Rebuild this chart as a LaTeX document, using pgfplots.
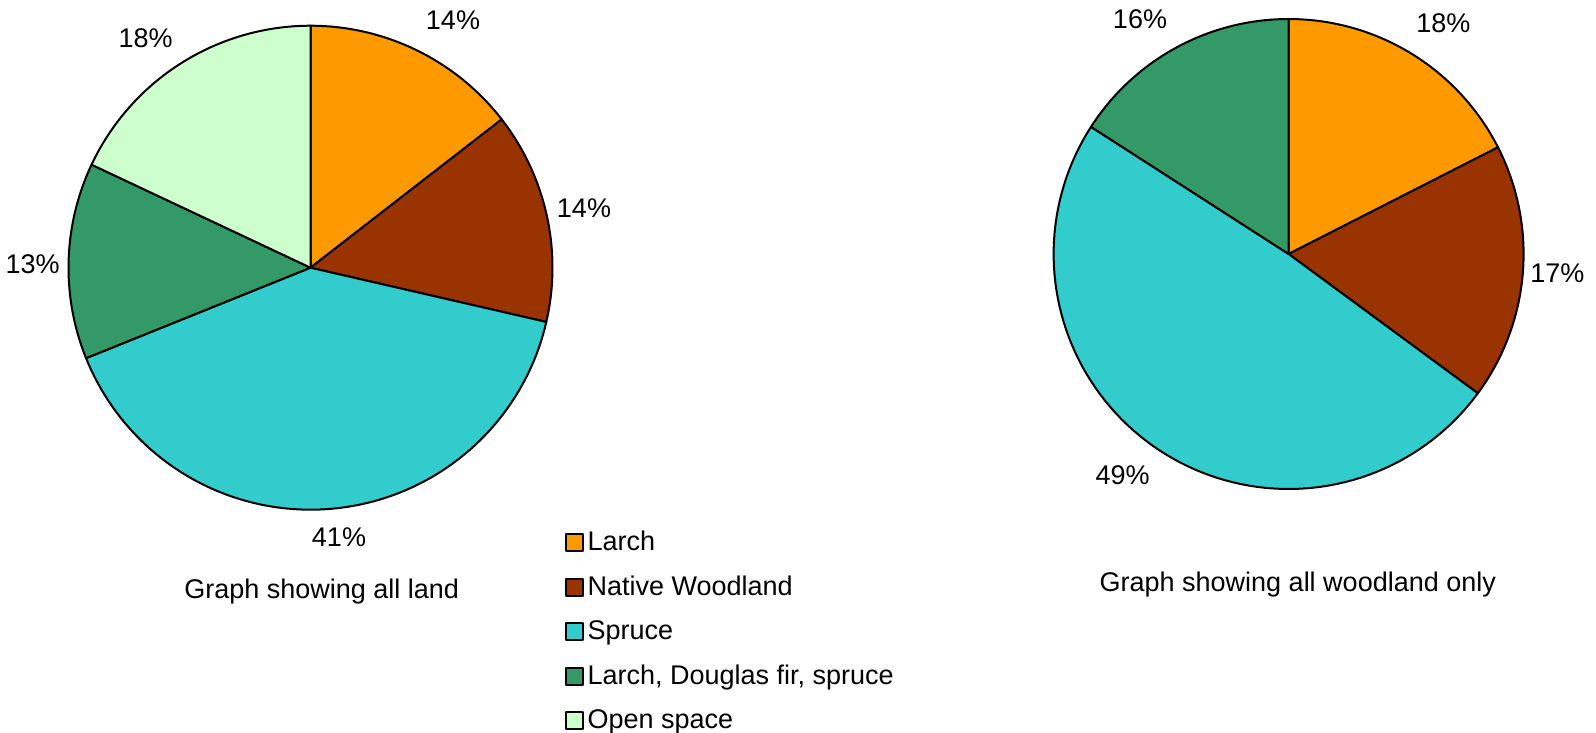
\documentclass[border=0pt]{standalone}
\usepackage{pgfplots}
\pgfplotsset{compat=1.18}
\usepackage{fontspec}
\setmainfont{Liberation Sans}
\definecolor{clarch}{HTML}{FF9900}
\definecolor{cnative}{HTML}{993300}
\definecolor{cspruce}{HTML}{33CCCC}
\definecolor{clds}{HTML}{339966}
\definecolor{copen}{HTML}{CCFFCC}
% #1 colour, #2 cumulative percent before slice, #3 cumulative percent after slice
\newcommand\slice[3]{%
  \addplot[fill=#1, draw=black, line width=1pt, line join=round, samples=90,
    domain={90-3.6*#3}:{90-3.6*#2}] ({cos(x)},{sin(x)}) -- (axis cs:0,0) -- cycle;}
\pgfplotsset{pieaxis/.style={scale only axis, hide axis, clip=false,
  xmin=-1, xmax=1, ymin=-1, ymax=1, anchor=center}}
\begin{document}
\fontsize{13.5}{16}\selectfont
\begin{tikzpicture}[every node/.style={inner sep=0pt}]
\path[use as bounding box] (0pt,0pt) rectangle (798pt,-366.5pt);
% Left pie: all land. Values (percent): Larch 14.5, Native 14.1, Spruce 40.3, LDS 13.1, Open 18.0
\begin{axis}[pieaxis, at={(155.25pt,-133.85pt)}, width=242pt, height=242pt,
  legend style={at={(rel axis cs:1.024,-0.039)}, anchor=north west, draw=none, fill=none,
    inner sep=0pt, row sep=9.05pt, column sep=1.2pt,
    font=\fontsize{13.5}{16}\selectfont,
    nodes={inner sep=0.8pt, anchor=west}},
  legend cell align=left,
  legend image code/.code={\draw[#1, draw=black, line width=1pt] (0pt,-4.25pt) rectangle (8.5pt,4.25pt);}]
\slice{clarch}{0}{14.5}\addlegendentry{Larch}
\slice{cnative}{14.5}{28.6}\addlegendentry{Native Woodland}
\slice{cspruce}{28.6}{68.9}\addlegendentry{Spruce}
\slice{clds}{68.9}{82.0}\addlegendentry{Larch, Douglas fir, spruce}
\slice{copen}{82.0}{100}\addlegendentry{Open space}
\end{axis}
% Right pie: woodland only. Values: Larch 17.5, Native 17.6, Spruce 49.0, LDS 15.9
\begin{axis}[pieaxis, at={(644.3pt,-127pt)}, width=235pt, height=235pt]
\slice{clarch}{0}{17.5}
\slice{cnative}{17.5}{35.1}
\slice{cspruce}{35.1}{84.1}
\slice{clds}{84.1}{100}
\end{axis}
\node at (226.5pt,-10.2pt) {14\%};
\node at (292pt,-104.35pt) {14\%};
\node at (169.5pt,-268.75pt) {41\%};
\node at (16.3pt,-132.35pt) {13\%};
\node at (72.8pt,-19.35pt) {18\%};
\node at (160.85pt,-295.7pt) {Graph showing all land};
\node at (721.7pt,-11.7pt) {18\%};
\node at (778.7pt,-136.4pt) {17\%};
\node at (561.35pt,-237.7pt) {49\%};
\node at (570pt,-9.65pt) {16\%};
\node at (648.9pt,-292.15pt) {Graph showing all woodland only};
\end{tikzpicture}
\end{document}
